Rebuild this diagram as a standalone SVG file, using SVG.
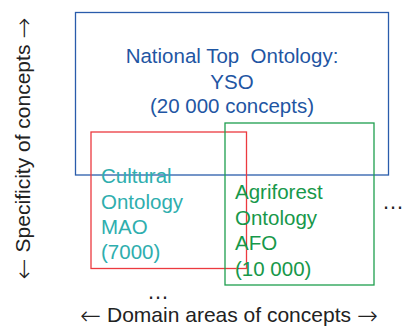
<svg xmlns="http://www.w3.org/2000/svg" width="404" height="326" viewBox="0 0 404 326">
<style>
text{font-family:"Liberation Sans",Arial,sans-serif;font-size:20.5px}
.box{fill:none;stroke-width:1.3}
.axis{fill:#222;font-size:21px}
.arr{font-family:"DejaVu Sans",sans-serif;font-size:25px;font-weight:200}
.dots{fill:#222;font-size:22px}
</style>
<rect width="404" height="326" fill="#fff"/>
<g id="yso">
<rect class="box" x="75.5" y="12.5" width="313" height="162.5" stroke="#2a5cab"/>
<text x="232" y="63" text-anchor="middle" fill="#1f56a3" xml:space="preserve">National Top  Ontology:</text>
<text x="232" y="89" text-anchor="middle" fill="#1f56a3">YSO</text>
<text x="232" y="113" text-anchor="middle" fill="#1f56a3">(20 000 concepts)</text>
</g>
<g id="mao">
<rect class="box" x="91" y="132" width="155.5" height="136.5" stroke="#ec3a3f"/>
<text x="101" y="183" fill="#2eaeae">Cultural</text>
<text x="101" y="208.5" fill="#2eaeae">Ontology</text>
<text x="101" y="234" fill="#2eaeae">MAO</text>
<text x="101" y="259" fill="#2eaeae">(7000)</text>
</g>
<g id="afo">
<rect class="box" x="225" y="123" width="149" height="162" stroke="#1e9e4e"/>
<text x="235" y="199" fill="#17984a">Agriforest</text>
<text x="235" y="225" fill="#17984a">Ontology</text>
<text x="235" y="250" fill="#17984a">AFO</text>
<text x="235" y="276" fill="#17984a">(10 000)</text>
</g>
<g id="more">
<text x="382" y="209" class="dots">…</text>
<text x="147" y="299" class="dots">…</text>
</g>
<g id="axes">
<text x="229" y="322" text-anchor="middle" class="axis"><tspan class="arr" dy="2">←</tspan><tspan dy="-2"> Domain areas of concepts </tspan><tspan class="arr" dy="2">→</tspan></text>
<text transform="translate(29.5,148.5) rotate(-90)" text-anchor="middle" class="axis"><tspan class="arr" dy="2">←</tspan><tspan dy="-2"> Specificity of concepts </tspan><tspan class="arr" dy="2">→</tspan></text>
</g>
<g id="connectors"></g>
</svg>
